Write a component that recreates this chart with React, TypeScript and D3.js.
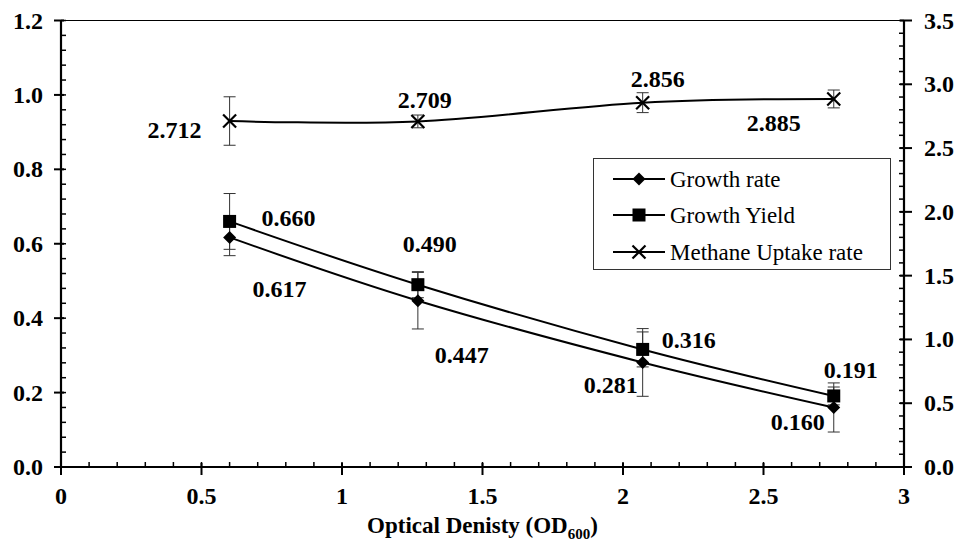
import React from "react";
import * as d3 from "d3";

// ---- data ----
const odValues = [0.6, 1.27, 2.07, 2.75];
const growthRate = [0.617, 0.447, 0.281, 0.16];
const growthRateErr = [0.049, 0.076, 0.091, 0.066];
const growthYield = [0.66, 0.49, 0.316, 0.191];
const growthYieldErr = [0.075, 0.035, 0.047, 0.024];
const methaneRate = [2.712, 2.709, 2.856, 2.885];
const methaneErr = [0.19, 0.05, 0.078, 0.07];
const xTicks = [0, 0.5, 1, 1.5, 2, 2.5, 3];
const yLeftTicks = [0, 0.2, 0.4, 0.6, 0.8, 1.0, 1.2];
const yRightTicks = [0, 0.5, 1.0, 1.5, 2.0, 2.5, 3.0, 3.5];
const legendLabels = ["Growth rate", "Growth Yield", "Methane Uptake rate"];

// label offsets (layout)
const rateLabelOff = [[50, 60], [44, 62], [-32, 31], [-36, 23]];
const yieldLabelOff = [[59, 5], [12, -33], [46, -1], [17, -18]];
const methLabelOff = [[-55, 17], [7, -13], [15, -16], [-60, 32]];

const W = 958, H = 545;
const L = 61, R = 904, T = 20.5, B = 467;
const FF = `"Times New Roman", "Nimbus Roman", "Liberation Serif", Tinos, serif`;

export default function App() {
  const x = d3.scaleLinear().domain([0, 3]).range([L, R]);
  const yL = d3.scaleLinear().domain([0, 1.2]).range([B, T]);
  const yR = d3.scaleLinear().domain([0, 3.5]).range([B, T]);

  const curve = d3.curveCardinal.tension(0);
  const lineL = d3.line<[number, number]>().x(d => x(d[0])).y(d => yL(d[1])).curve(curve);
  const lineR = d3.line<[number, number]>().x(d => x(d[0])).y(d => yR(d[1])).curve(curve);

  const rateData = odValues.map((v, i) => [v, growthRate[i]] as [number, number]);
  const yieldData = odValues.map((v, i) => [v, growthYield[i]] as [number, number]);
  const methData = odValues.map((v, i) => [v, methaneRate[i]] as [number, number]);

  const xMinor = d3.range(0, 3.0001, 0.1);
  const yLMinor = d3.range(0, 1.2001, 0.04);
  const yRMinor = d3.range(0, 3.5001, 0.1);

  const diamond = (cx: number, cy: number, s = 6.5) =>
    `M${cx},${cy - s}L${cx + s},${cy}L${cx},${cy + s}L${cx - s},${cy}Z`;

  const errBar = (px: number, lo: number, hi: number, key: string) => (
    <g key={key} stroke="#333" strokeWidth={1}>
      <line x1={px} x2={px} y1={lo} y2={hi} />
      <line x1={px - 6} x2={px + 6} y1={lo} y2={lo} />
      <line x1={px - 6} x2={px + 6} y1={hi} y2={hi} />
    </g>
  );

  const fmt = d3.format(".3f");
  const legendRows = [179, 215, 252];
  const ts = { fontFamily: FF };

  return (
    <svg width={W} height={H} style={{ position: "absolute", left: 0, top: 0, fontFamily: FF }}>
      <rect x={0} y={0} width={W} height={H} fill="#fff" />
      <line x1={L} x2={R} y1={T} y2={T} stroke="#000" strokeWidth={1.2} />

      {xMinor.map((v, i) => (
        <line key={"xm" + i} x1={x(v)} x2={x(v)} y1={B} y2={B - 5} stroke="#000" strokeWidth={1.5} />
      ))}
      {yLMinor.map((v, i) => (
        <line key={"ylm" + i} x1={L} x2={L + 5} y1={yL(v)} y2={yL(v)} stroke="#000" strokeWidth={1.5} />
      ))}
      {yRMinor.map((v, i) => (
        <line key={"yrm" + i} x1={R} x2={R - 5} y1={yR(v)} y2={yR(v)} stroke="#000" strokeWidth={1.5} />
      ))}
      {xTicks.map((v, i) => (
        <line key={"xM" + i} x1={x(v)} x2={x(v)} y1={B - 4} y2={B + 8} stroke="#000" strokeWidth={2} />
      ))}
      {yLeftTicks.map((v, i) => (
        <line key={"ylM" + i} x1={L - 7} x2={L + 3} y1={yL(v)} y2={yL(v)} stroke="#000" strokeWidth={2} />
      ))}
      {yRightTicks.map((v, i) => (
        <line key={"yrM" + i} x1={R - 4} x2={R + 8} y1={yR(v)} y2={yR(v)} stroke="#000" strokeWidth={2} />
      ))}

      <line x1={L} x2={L} y1={T} y2={B} stroke="#000" strokeWidth={2.2} />
      <line x1={R} x2={R} y1={T} y2={B} stroke="#000" strokeWidth={2.2} />
      <line x1={L} x2={R} y1={B} y2={B} stroke="#000" strokeWidth={2.2} />

      {xTicks.map((v, i) => (
        <text key={"xl" + i} style={ts} x={x(v)} y={504} textAnchor="middle" fontSize={24} fontWeight="bold">
          {d3.format("")(v)}
        </text>
      ))}
      {yLeftTicks.map((v, i) => (
        <text key={"yll" + i} style={ts} x={43} y={yL(v) + 8} textAnchor="end" fontSize={24} fontWeight="bold">
          {d3.format(".1f")(v)}
        </text>
      ))}
      {yRightTicks.map((v, i) => (
        <text key={"yrl" + i} style={ts} x={924} y={yR(v) + 8} textAnchor="start" fontSize={24} fontWeight="bold">
          {d3.format(".1f")(v)}
        </text>
      ))}

      <text style={ts} x={(L + R) / 2} y={533} textAnchor="middle" fontSize={23} fontWeight="bold">
        Optical Denisty (OD<tspan fontSize={15} dy={6}>600</tspan><tspan dy={-6}>)</tspan>
      </text>

      {odValues.map((v, i) => errBar(x(v), yL(growthRate[i] - growthRateErr[i]), yL(growthRate[i] + growthRateErr[i]), "er" + i))}
      {odValues.map((v, i) => errBar(x(v), yL(growthYield[i] - growthYieldErr[i]), yL(growthYield[i] + growthYieldErr[i]), "ey" + i))}
      {odValues.map((v, i) => errBar(x(v), yR(methaneRate[i] - methaneErr[i]), yR(methaneRate[i] + methaneErr[i]), "em" + i))}

      <path d={lineL(rateData) || ""} fill="none" stroke="#000" strokeWidth={2} />
      <path d={lineL(yieldData) || ""} fill="none" stroke="#000" strokeWidth={2} />
      <path d={lineR(methData) || ""} fill="none" stroke="#000" strokeWidth={2} />

      {rateData.map((d, i) => (
        <path key={"mr" + i} d={diamond(x(d[0]), yL(d[1]))} fill="#000" />
      ))}
      {yieldData.map((d, i) => (
        <rect key={"my" + i} x={x(d[0]) - 6.5} y={yL(d[1]) - 6.5} width={13} height={13} fill="#000" />
      ))}
      {methData.map((d, i) => {
        const cx = x(d[0]), cy = yR(d[1]), s = 6.5;
        return (
          <g key={"mm" + i} stroke="#000" strokeWidth={2.2}>
            <line x1={cx - s} x2={cx + s} y1={cy - s} y2={cy + s} />
            <line x1={cx - s} x2={cx + s} y1={cy + s} y2={cy - s} />
          </g>
        );
      })}

      {rateData.map((d, i) => (
        <text key={"lr" + i} style={ts} x={x(d[0]) + rateLabelOff[i][0]} y={yL(d[1]) + rateLabelOff[i][1]}
          textAnchor="middle" fontSize={24} fontWeight="bold">{fmt(d[1])}</text>
      ))}
      {yieldData.map((d, i) => (
        <text key={"ly" + i} style={ts} x={x(d[0]) + yieldLabelOff[i][0]} y={yL(d[1]) + yieldLabelOff[i][1]}
          textAnchor="middle" fontSize={24} fontWeight="bold">{fmt(d[1])}</text>
      ))}
      {methData.map((d, i) => (
        <text key={"lm" + i} style={ts} x={x(d[0]) + methLabelOff[i][0]} y={yR(d[1]) + methLabelOff[i][1]}
          textAnchor="middle" fontSize={24} fontWeight="bold">{fmt(d[1])}</text>
      ))}

      <rect x={593.5} y={158.5} width={297} height={111} fill="#fff" stroke="#333" strokeWidth={1} />
      {legendLabels.map((lab, i) => {
        const cy = legendRows[i];
        const cx = 639;
        return (
          <g key={"lg" + i}>
            <line x1={613} x2={665} y1={cy} y2={cy} stroke="#000" strokeWidth={2} />
            {i === 0 && <path d={diamond(cx, cy)} fill="#000" />}
            {i === 1 && <rect x={cx - 6.5} y={cy - 6.5} width={13} height={13} fill="#000" />}
            {i === 2 && (
              <g stroke="#000" strokeWidth={2.2}>
                <line x1={cx - 6.5} x2={cx + 6.5} y1={cy - 6.5} y2={cy + 6.5} />
                <line x1={cx - 6.5} x2={cx + 6.5} y1={cy + 6.5} y2={cy - 6.5} />
              </g>
            )}
            <text style={ts} x={670} y={cy + 8} fontSize={23}>{lab}</text>
          </g>
        );
      })}
    </svg>
  );
}
